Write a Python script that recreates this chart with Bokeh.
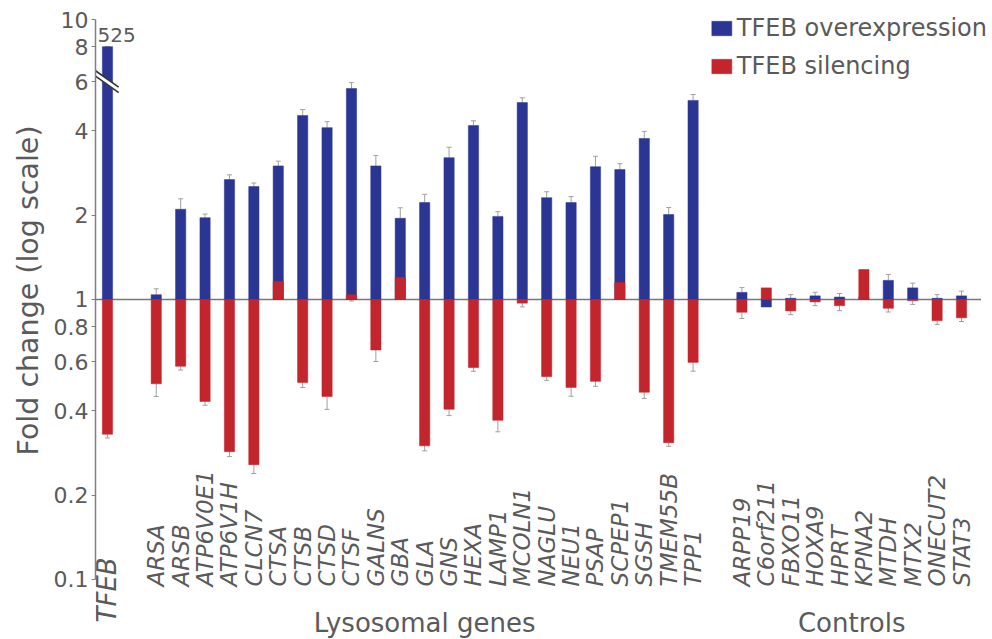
import math
from bokeh.plotting import figure
from bokeh.models import (FixedTicker, Legend, LegendItem, Title, Whisker,
                          TeeHead, ColumnDataSource, CustomJSTickFormatter, Range1d)
from bokeh.core.properties import value
from bokeh.embed import file_html
from bokeh.resources import INLINE

# ---------------- data ----------------
tfeb_gene = ["TFEB"]
lysosomal = ["ARSA", "ARSB", "ATP6V0E1", "ATP6V1H", "CLCN7", "CTSA", "CTSB", "CTSD",
             "CTSF", "GALNS", "GBA", "GLA", "GNS", "HEXA", "LAMP1", "MCOLN1", "NAGLU",
             "NEU1", "PSAP", "SCPEP1", "SGSH", "TMEM55B", "TPP1"]
controls = ["ARPP19", "C6orf211", "FBXO11", "HOXA9", "HPRT", "KPNA2", "MTDH", "MTX2",
            "ONECUT2", "STAT3"]

tfeb_over = [525.0]
tfeb_sil = [0.33]
lyso_over = [1.04, 2.10, 1.96, 2.68, 2.53, 3.00, 4.54, 4.11, 5.67, 3.00, 1.95, 2.22,
             3.21, 4.18, 1.98, 5.05, 2.31, 2.22, 2.98, 2.91, 3.76, 2.01, 5.14]
lyso_sil = [0.50, 0.577, 0.432, 0.286, 0.257, 1.16, 0.505, 0.45, 1.04, 0.66, 1.20, 0.30,
            0.405, 0.571, 0.37, 0.97, 0.53, 0.485, 0.51, 1.15, 0.466, 0.308, 0.596]
ctrl_over = [1.06, 0.94, 1.01, 1.03, 1.02, 1.02, 1.17, 1.10, 1.01, 1.03]
ctrl_sil = [0.90, 1.10, 0.91, 0.98, 0.95, 1.28, 0.93, 0.99, 0.84, 0.86]

# relative errors (fraction of value)
tfeb_over_err = [0.0]
tfeb_sil_err = [0.03]
lyso_over_err = [0.05, 0.09, 0.03, 0.04, 0.03, 0.04, 0.05, 0.05, 0.05, 0.09, 0.09, 0.07,
                 0.09, 0.04, 0.04, 0.04, 0.05, 0.05, 0.09, 0.05, 0.06, 0.06, 0.05]
lyso_sil_err = [0.10, 0.03, 0.03, 0.04, 0.07, 0.03, 0.04, 0.10, 0.05, 0.09, 0.03, 0.04,
                0.05, 0.03, 0.09, 0.03, 0.03, 0.07, 0.04, 0.03, 0.05, 0.03, 0.07]
ctrl_over_err = [0.04, 0.03, 0.03, 0.03, 0.03, 0.03, 0.05, 0.04, 0.03, 0.04]
ctrl_sil_err = [0.05, 0.04, 0.03, 0.03, 0.04, 0.05, 0.03, 0.03, 0.03, 0.03]

y_ticks = [0.1, 0.2, 0.4, 0.6, 0.8, 1, 2, 4, 6, 8, 10]
axis_cap = 8      # TFEB bar drawn up to this value (broken axis)
axis_break = 6    # position of the axis break mark

BLUE = "#2b3593"
RED = "#c3252c"
GREY = "#5a5a5a"
FONT = "DejaVu Sans"

# ---------------- positions ----------------
genes = tfeb_gene + lysosomal + controls
pos = [0] + [2 + i for i in range(len(lysosomal))] + \
      [2 + len(lysosomal) + 1 + i for i in range(len(controls))]
over = tfeb_over + lyso_over + ctrl_over
sil = tfeb_sil + lyso_sil + ctrl_sil
over_err = tfeb_over_err + lyso_over_err + ctrl_over_err
sil_err = tfeb_sil_err + lyso_sil_err + ctrl_sil_err
over_disp = [min(v, axis_cap) for v in over]

src = ColumnDataSource(dict(
    x=pos, gene=genes, over=over_disp, sil=sil,
    ou=[v * (1 + e) for v, e in zip(over_disp, over_err)],
    sl=[v * (1 - e) for v, e in zip(sil, sil_err)],
))

W, H = 992, 639
x_start = -0.49
p = figure(width=W, height=H, y_axis_type="log", output_backend="svg",
           toolbar_location=None, x_range=Range1d(x_start, 36.27),
           y_range=Range1d(0.0610, 10.86),
           min_border_left=95, min_border_right=0, min_border_top=9, min_border_bottom=0)
p.outline_line_color = None
p.xgrid.visible = False
p.ygrid.visible = False
p.xaxis.visible = False
p.background_fill_color = "white"

# axis
ya = p.yaxis[0]
ya.ticker = FixedTicker(ticks=y_ticks, minor_ticks=[])
ya.formatter = CustomJSTickFormatter(code="return String(tick);")
ya.bounds = (min(y_ticks), max(y_ticks))
ya.axis_line_color = "#808080"
ya.axis_line_width = 1.5
ya.major_tick_line_color = "#808080"
ya.major_tick_out = 4
ya.major_tick_in = 0
ya.minor_tick_out = 0
ya.minor_tick_in = 0
ya.major_label_text_font = FONT
ya.major_label_text_font_size = "22px"
ya.major_label_text_color = GREY
ya.major_label_standoff = 3

# y-axis title (placed with an offset along the axis)
ytitle = Title(text="Fold change (log scale)", align="left", offset=184, standoff=12,
               text_font=FONT, text_font_size="28.5px", text_font_style="normal",
               text_color=GREY)
p.add_layout(ytitle, "left")

# baseline at 1
p.segment(x0=[x_start], y0=[1], x1=[pos[-1] + 0.8], y1=[1],
          line_color="#777777", line_width=1.5)

w = 0.42
rb = p.vbar(x="x", width=w, bottom=1, top="over", source=src, fill_color=BLUE,
            line_color=BLUE, line_width=0.5)
rr = p.vbar(x="x", width=w, bottom=1, top="sil", source=src, fill_color=RED,
            line_color=RED, line_width=0.5)

p.add_layout(Whisker(source=src, base="x", upper="ou", lower="over", dimension="height",
                     line_color="#a0a0a0", line_width=1,
                     upper_head=TeeHead(size=5, line_color="#a0a0a0", line_width=1),
                     lower_head=None))
p.add_layout(Whisker(source=src, base="x", upper="sil", lower="sl", dimension="height",
                     line_color="#a0a0a0", line_width=1,
                     lower_head=TeeHead(size=5, line_color="#a0a0a0", line_width=1),
                     upper_head=None))

# axis break on TFEB bar
bx0, bx1 = x_start, pos[0] + w / 2 + 0.25
p.segment(x0=[bx0], y0=[axis_break * 1.07], x1=[bx1], y1=[axis_break / 1.07],
          line_color="white", line_width=5)
for k in (1.022, 0.978):
    p.segment(x0=[bx0], y0=[axis_break * 1.07 * k], x1=[bx1], y1=[axis_break / 1.07 * k],
              line_color="#333333", line_width=1.6)

# value label for TFEB
p.text(x=[pos[0] - w / 2 - 0.2], y=[axis_cap], text=[str(int(tfeb_over[0]))],
       text_font=value(FONT), text_font_size="20px", text_color=GREY,
       text_align="left", text_baseline="bottom", y_offset=-5)

# gene labels
p.text(x=pos[1:], y=[min(y_ticks)] * (len(genes) - 1), text=genes[1:], angle=math.pi / 2,
       text_font=value(FONT), text_font_style="italic", text_font_size="23px",
       text_color=GREY, text_align="left", text_baseline="middle", y_offset=7)
p.text(x=pos[:1], y=[min(y_ticks)], text=genes[:1], angle=math.pi / 2,
       text_font=value(FONT), text_font_style="italic", text_font_size="26px",
       text_color=GREY, text_align="left", text_baseline="middle", y_offset=43)

# group titles
lys_c = (pos[1] + pos[len(lysosomal)]) / 2
ctl_c = (pos[len(lysosomal) + 1] + pos[-1]) / 2
p.text(x=[lys_c, ctl_c], y=[min(y_ticks)] * 2, text=["Lysosomal genes", "Controls"],
       text_font=value(FONT), text_font_size="26px", text_color=GREY,
       text_align="center", text_baseline="alphabetic", y_offset=44)

legend = Legend(items=[LegendItem(label="TFEB overexpression", renderers=[rb]),
                       LegendItem(label="TFEB silencing", renderers=[rr])],
                location="top_right", orientation="vertical",
                glyph_width=25, glyph_height=18, label_standoff=3, spacing=10,
                padding=0, margin=5, border_line_color=None,
                background_fill_alpha=0,
                label_text_font=FONT, label_text_font_size="24px",
                label_text_color=GREY)
p.add_layout(legend)

open("out.html", "w").write(file_html(p, INLINE))
